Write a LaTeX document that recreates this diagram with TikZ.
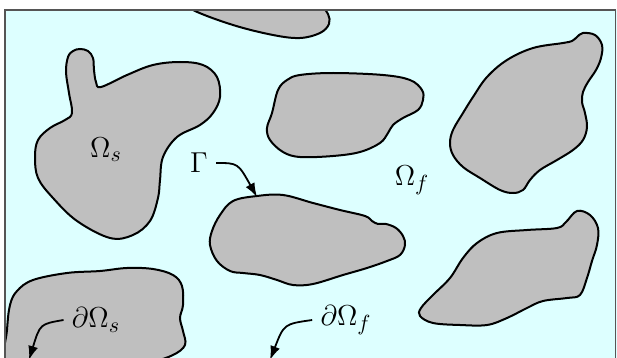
\documentclass[tikz,border=0pt]{standalone}
\usepackage{amsmath,amssymb}
\usetikzlibrary{arrows.meta,positioning}
\definecolor{fluid}{HTML}{DDFFFF}
\definecolor{grain}{HTML}{BFBFBF}
\definecolor{frameInk}{HTML}{555555}
\tikzset{
  blob/.style={draw=black, line width=1pt, fill=grain},
  lbl/.style={font=\fontsize{15.5}{18}\selectfont, inner sep=4pt},
  flow/.style={-{Latex[length=7pt,width=5pt]}, line width=0.9pt, draw=black}
}

\begin{document}
\begin{tikzpicture}[x=0.5pt, y=-0.5pt]
    \useasboundingbox (0,0) rectangle (617,358);
    \fill[white] (0,0) rectangle (617,358);

    % fluid domain and grains
    \begin{scope}
      \clip (5,10) rectangle (617,358);
      \fill[fluid] (5,10) rectangle (617,358);
      \draw[blob] plot[smooth cycle, tension=0.6] coordinates {
        (185,0) (193,10) (233,25) (273,35) (300,38) (320,33) (329,24)
        (328,14) (320,5) (300,-5) (220,-5)};
      \draw[blob] plot[smooth cycle, tension=0.6] coordinates {
        (80,49) (88,51) (93,58) (94,70) (96,82) (101,87) (127,75) (153,65)
        (180,62) (203,65) (217,77) (220,97) (213,113) (200,125) (177,137)
        (163,157) (160,180) (158,198) (150,221) (133,235) (110,238) (77,221)
        (53,198) (38,178) (35,157) (38,140) (50,128) (65,120) (72,113)
        (69,93) (66,72) (68,57) (73,51)};
      \draw[blob] plot[smooth cycle, tension=0.6] coordinates {
        (300,75) (333,73) (383,75) (410,80) (422,90) (423,100) (418,110)
        (403,118) (393,125) (388,133) (380,143) (360,152) (333,156)
        (300,157) (283,152) (270,140) (267,128) (272,113) (278,90) (287,80)};
      \draw[blob] plot[smooth cycle, tension=0.6] coordinates {
        (583,33) (595,35) (602,45) (601,58) (596,70) (588,82) (583,92)
        (582,102) (585,113) (587,127) (583,140) (573,150) (557,160)
        (540,170) (530,180) (523,190) (513,193) (500,190) (480,178)
        (463,167) (453,155) (450,143) (453,130) (463,113) (473,97) (487,77)
        (507,60) (533,48) (563,43) (572,41) (577,37)};
      \draw[blob] plot[smooth cycle, tension=0.6] coordinates {
        (257,196) (283,195) (313,203) (340,210) (365,216) (372,221)
        (378,224) (386,224) (396,228) (403,236) (405,245) (400,255)
        (387,261) (367,268) (343,275) (313,284) (293,285) (277,280)
        (260,275) (243,273) (230,271) (217,261) (210,245) (212,231)
        (220,215) (233,201)};
      \draw[blob] plot[smooth cycle, tension=0.6] coordinates {
        (577,211) (590,215) (598,228) (597,245) (592,261) (587,278)
        (580,295) (567,298) (543,301) (527,308) (507,318) (487,325)
        (460,325) (433,323) (420,316) (421,308) (433,295) (450,278)
        (463,258) (477,243) (497,233) (527,230) (557,228) (566,222)};
      \draw[blob] plot[smooth cycle, tension=0.6] coordinates {
        (5,370) (7,330) (10,305) (17,291) (33,280) (67,273) (100,271)
        (127,268) (153,269) (173,275) (182,286) (183,305) (180,318)
        (183,331) (185,345) (173,355) (150,362) (100,370) (40,375)};
    \end{scope}
    \draw[frameInk, line width=0.8pt] (5,400) -- (5,10) -- (615.5,10) -- (615.5,400);

    % labels
    \node[lbl] (omS) at (106,150) {$\Omega_s$};
    \node[lbl] (omF) at (412,180) {$\Omega_f$};
    \node[lbl] (gam) at (199,163) {$\Gamma$};
    \node[lbl] (dOs) at (96,320) {$\partial\Omega_s$};
    \node[lbl] (dOf) at (346,320) {$\partial\Omega_f$};

    \coordinate (gamTip) at (257,197);
    \coordinate (dOsTip) at (29,360);
    \coordinate (dOfTip) at (270,360);

    \draw[flow] (gam.east) .. controls (238,163) .. (gamTip);
    \draw[flow] (dOs.west) .. controls (40,324) .. (dOsTip);
    \draw[flow] (dOf.west) .. controls (284,324) .. (dOfTip);
\end{tikzpicture}
\end{document}
